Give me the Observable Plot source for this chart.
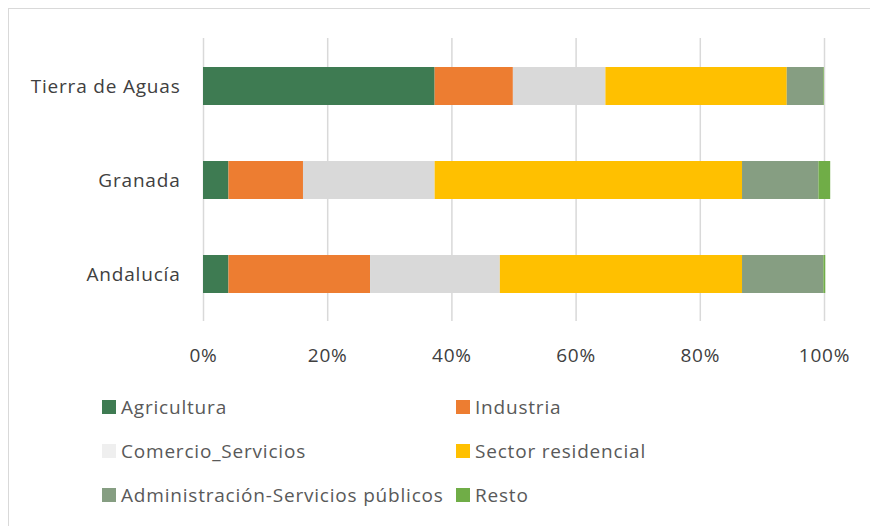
<!DOCTYPE html>
<html><head><meta charset="utf-8">
<script src="https://cdn.jsdelivr.net/npm/d3@7"></script>
<script src="https://cdn.jsdelivr.net/npm/@observablehq/plot@0.6"></script>
<style>
body{margin:0;background:#fff;font-family:"Open Sans",sans-serif;}
#wrap{position:relative;width:870px;height:526px;overflow:hidden;}
#frame{position:absolute;left:8px;top:8px;width:900px;height:560px;border:1px solid #d9d9d9;box-sizing:border-box;}
#chart{position:absolute;left:0;top:0;}
#chart svg text{letter-spacing:0.8px;}
#legend{position:absolute;left:102px;top:385px;display:grid;grid-template-columns:354px 300px;row-gap:0;}
.item{display:flex;align-items:center;height:44px;font-size:19px;letter-spacing:0.8px;color:#595959;}
.sw{width:14px;height:14px;margin-right:5px;flex:none;}
</style></head><body>
<div id="wrap"><div id="frame"></div><div id="chart"></div><div id="legend"></div></div>
<script>
const regions = ["Tierra de Aguas", "Granada", "Andalucía"];
const sectors = ["Agricultura", "Industria", "Comercio_Servicios", "Sector residencial", "Administración-Servicios públicos", "Resto"];
const colors = ["#3e7b52", "#ed7d31", "#d9d9d9", "#ffc000", "#869e82", "#70ad47"];
const legendColors = ["#3e7b52", "#ed7d31", "#efefef", "#ffc000", "#869e82", "#70ad47"];
const agricultura = [37.3, 4.1, 4.1];
const industria = [12.6, 12.0, 22.8];
const comercio = [14.9, 21.2, 20.9];
const residencial = [29.2, 49.5, 39.0];
const administracion = [5.9, 12.3, 13.1];
const resto = [0.1, 1.9, 0.3];
const xTicks = [0, 20, 40, 60, 80, 100];

const series = [agricultura, industria, comercio, residencial, administracion, resto];
const rows = [];
regions.forEach((r, i) => series.forEach((s, j) => rows.push({region: r, sector: sectors[j], value: s[i]})));

const plot = Plot.plot({
  width: 870, height: 375,
  marginTop: 38, marginBottom: 54, marginLeft: 203, marginRight: 46,
  style: {fontFamily: "Open Sans, sans-serif", fontSize: "19px", color: "#404040", background: "transparent"},
  x: {domain: [0, 100], label: null},
  y: {domain: regions, paddingInner: 0.6, paddingOuter: 0.3, label: null},
  color: {domain: sectors, range: colors},
  marks: [
    Plot.ruleX(xTicks, {x: d => d, stroke: "#d9d9d9", strokeWidth: 1.5}),
    Plot.barX(rows, Plot.stackX({x: "value", y: "region", fill: "sector", order: sectors})),
    Plot.axisX({ticks: xTicks, tickFormat: d => d + "%", tickSize: 0, tickPadding: 27, fill: "#404040", fontSize: 19}),
    Plot.axisY({tickSize: 0, tickPadding: 23, fill: "#404040", fontSize: 19})
  ]
});
document.getElementById("chart").appendChild(plot);

const leg = document.getElementById("legend");
sectors.forEach((s, i) => {
  const it = document.createElement("div"); it.className = "item";
  const sw = document.createElement("span"); sw.className = "sw"; sw.style.background = legendColors[i];
  const t = document.createElement("span"); t.textContent = s;
  it.appendChild(sw); it.appendChild(t); leg.appendChild(it);
});
</script></body></html>
